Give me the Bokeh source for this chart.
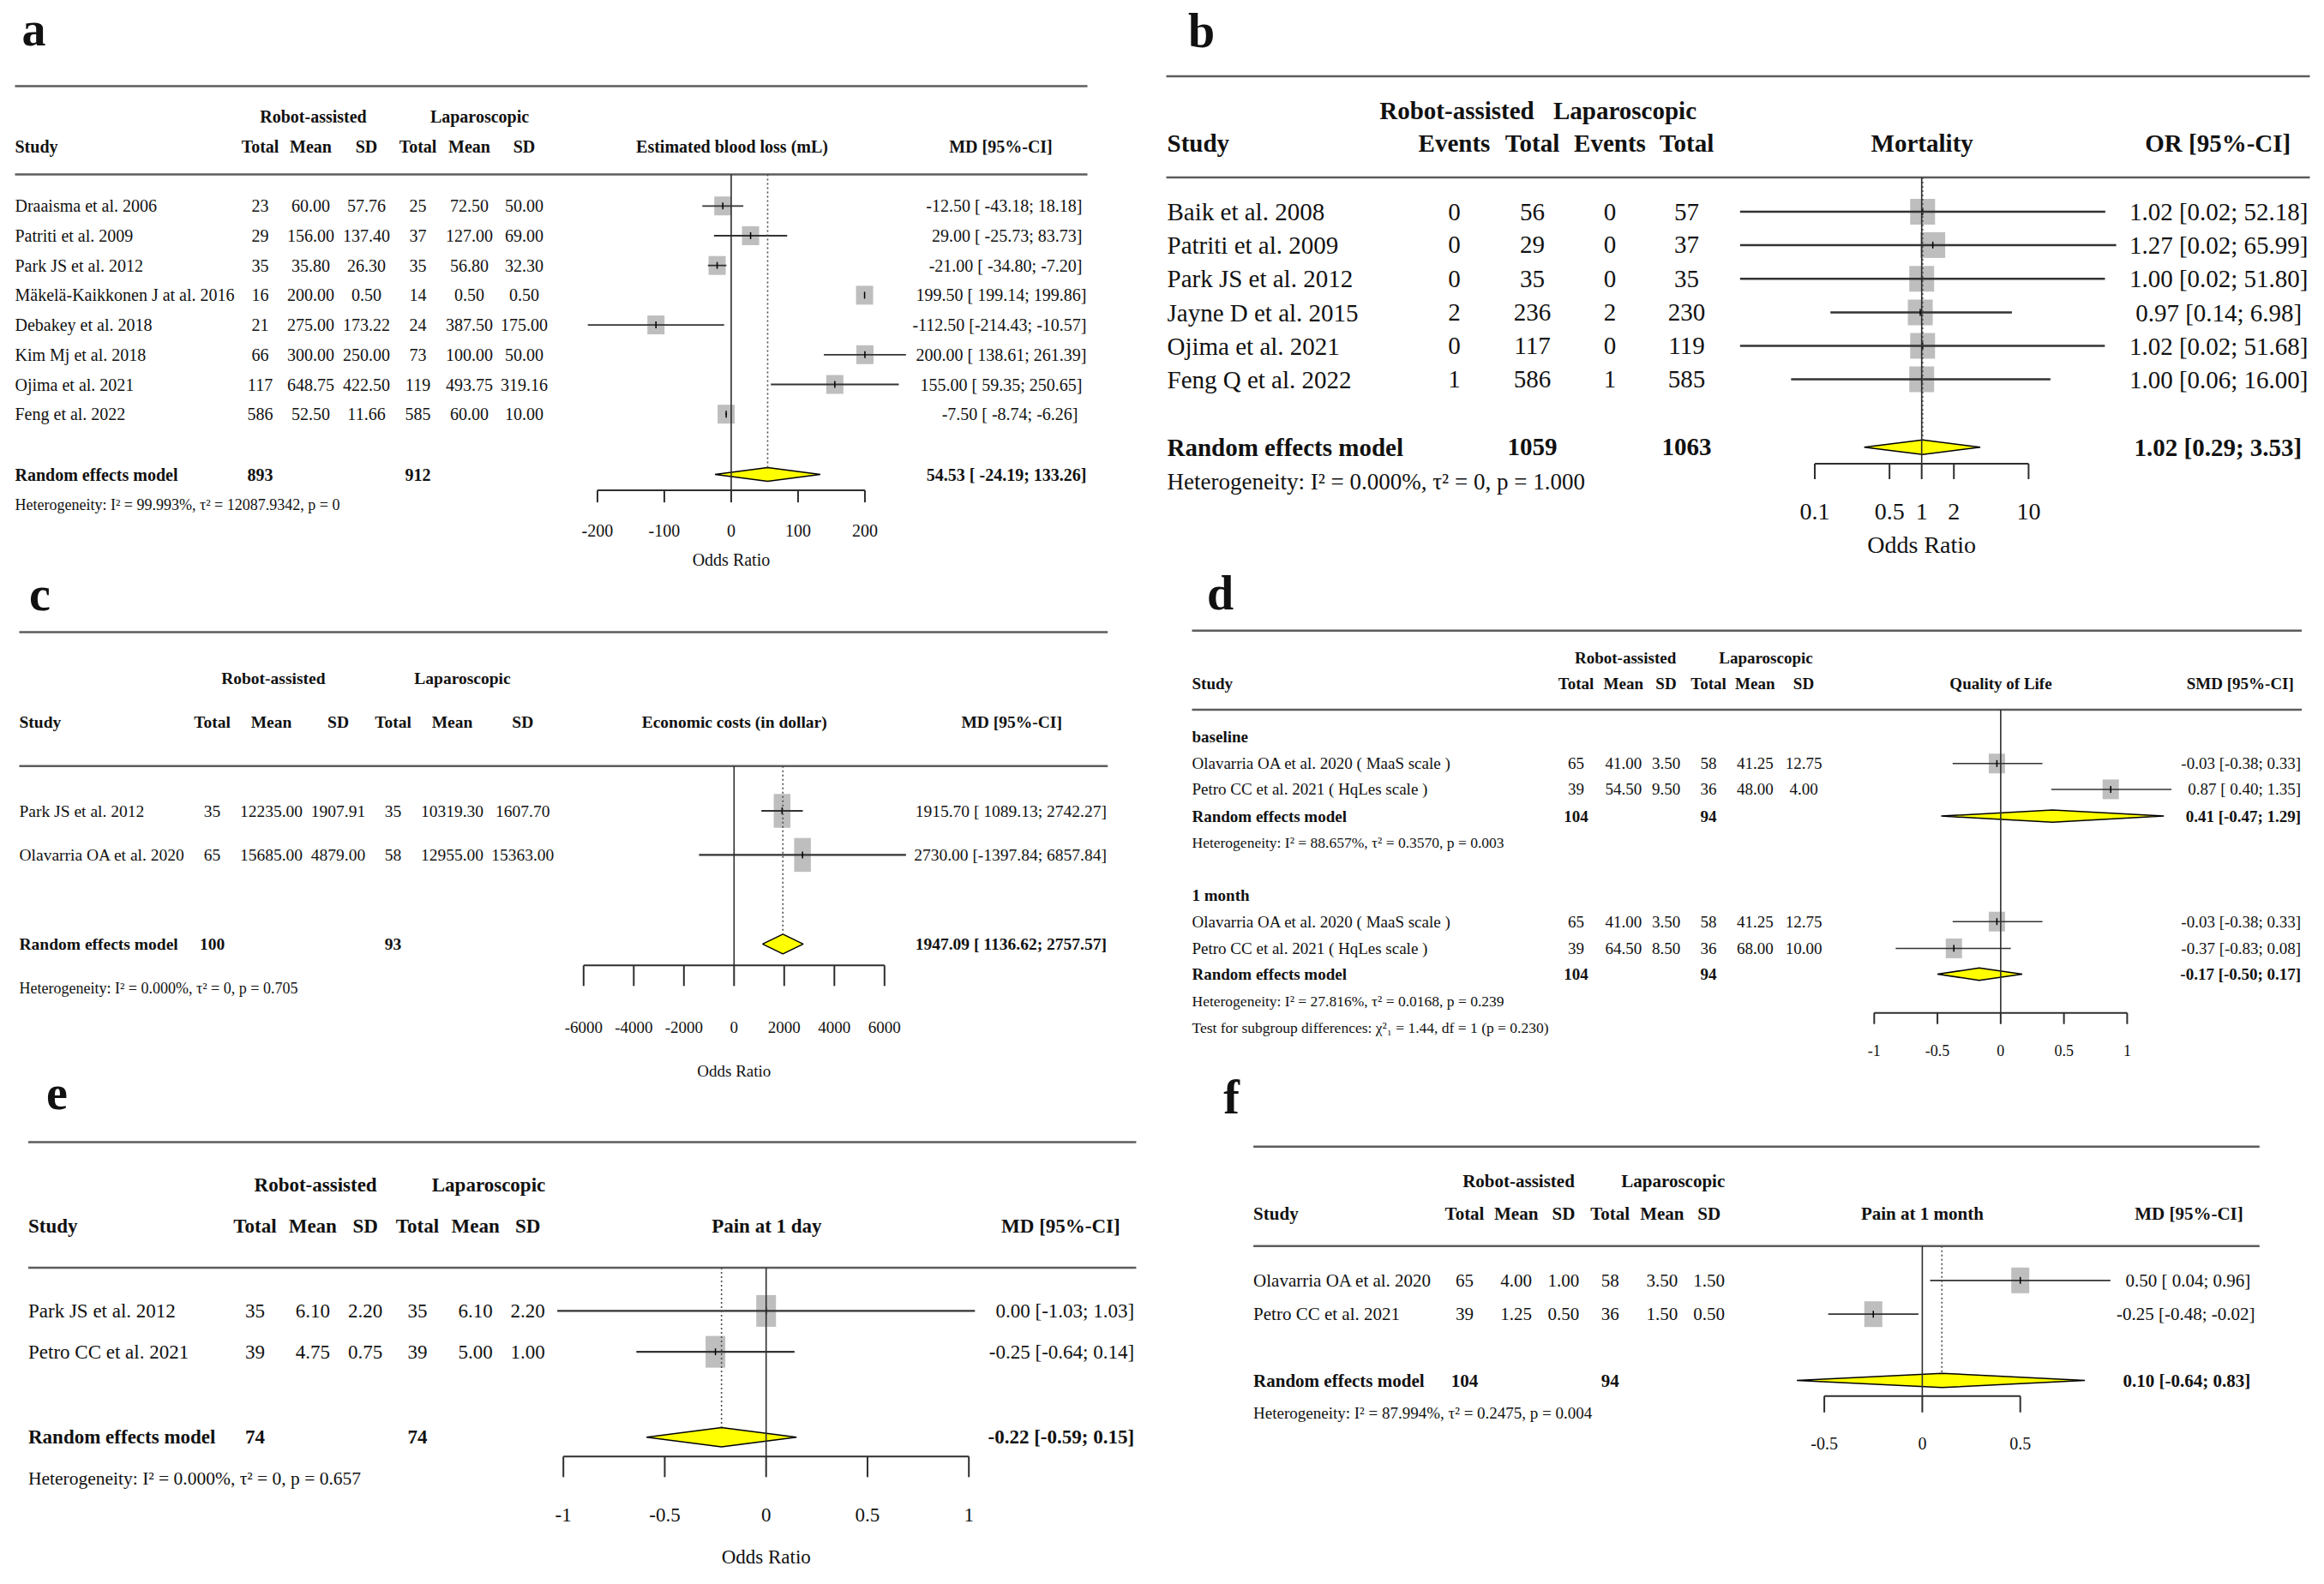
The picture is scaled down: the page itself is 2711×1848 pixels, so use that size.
import math
from bokeh.plotting import figure
from bokeh.models import Range1d, ColumnDataSource, LogScale, LinearScale
from bokeh.embed import file_html
from bokeh.resources import INLINE
from bokeh.core.properties import value

FONT = "Liberation Serif"

# ================= DATA =================
# (a) Estimated blood loss (mL)
a_studies = ["Draaisma et al. 2006", "Patriti et al. 2009", "Park JS et al. 2012",
             "Mäkelä-Kaikkonen J at al. 2016", "Debakey et al. 2018", "Kim Mj et al. 2018",
             "Ojima et al. 2021", "Feng et al. 2022"]
a_rob_total = [23, 29, 35, 16, 21, 66, 117, 586]
a_rob_mean = [60.00, 156.00, 35.80, 200.00, 275.00, 300.00, 648.75, 52.50]
a_rob_sd = [57.76, 137.40, 26.30, 0.50, 173.22, 250.00, 422.50, 11.66]
a_lap_total = [25, 37, 35, 14, 24, 73, 119, 585]
a_lap_mean = [72.50, 127.00, 56.80, 0.50, 387.50, 100.00, 493.75, 60.00]
a_lap_sd = [50.00, 69.00, 32.30, 0.50, 175.00, 50.00, 319.16, 10.00]
a_md = [-12.50, 29.00, -21.00, 199.50, -112.50, 200.00, 155.00, -7.50]
a_lo = [-43.18, -25.73, -34.80, 199.14, -214.43, 138.61, 59.35, -8.74]
a_hi = [18.18, 83.73, -7.20, 199.86, -10.57, 261.39, 250.65, -6.26]
a_re = [54.53, -24.19, 133.26]
a_re_totals = [893, 912]
a_het = "Heterogeneity: I² = 99.993%, τ² = 12087.9342, p = 0"
a_ticks = [-200, -100, 0, 100, 200]
a_tick_labels = ["-200", "-100", "0", "100", "200"]

# (b) Mortality
b_studies = ["Baik et al. 2008", "Patriti et al. 2009", "Park JS et al. 2012",
             "Jayne D et al. 2015", "Ojima et al. 2021", "Feng Q et al. 2022"]
b_rob_events = [0, 0, 0, 2, 0, 1]
b_rob_total = [56, 29, 35, 236, 117, 586]
b_lap_events = [0, 0, 0, 2, 0, 1]
b_lap_total = [57, 37, 35, 230, 119, 585]
b_or = [1.02, 1.27, 1.00, 0.97, 1.02, 1.00]
b_lo = [0.02, 0.02, 0.02, 0.14, 0.02, 0.06]
b_hi = [52.18, 65.99, 51.80, 6.98, 51.68, 16.00]
b_re = [1.02, 0.29, 3.53]
b_re_totals = [1059, 1063]
b_het = "Heterogeneity: I² = 0.000%, τ² = 0, p = 1.000"
b_ticks = [0.1, 0.5, 1, 2, 10]
b_tick_labels = ["0.1", "0.5", "1", "2", "10"]

# (c) Economic costs
c_studies = ["Park JS et al. 2012", "Olavarria OA et al. 2020"]
c_rob_total = [35, 65]
c_rob_mean = [12235.00, 15685.00]
c_rob_sd = [1907.91, 4879.00]
c_lap_total = [35, 58]
c_lap_mean = [10319.30, 12955.00]
c_lap_sd = [1607.70, 15363.00]
c_md = [1915.70, 2730.00]
c_lo = [1089.13, -1397.84]
c_hi = [2742.27, 6857.84]
c_re = [1947.09, 1136.62, 2757.57]
c_re_totals = [100, 93]
c_het = "Heterogeneity: I² = 0.000%, τ² = 0, p = 0.705"
c_ticks = [-6000, -4000, -2000, 0, 2000, 4000, 6000]
c_tick_labels = ["-6000", "-4000", "-2000", "0", "2000", "4000", "6000"]

# (d) Quality of life
d_studies = ["Olavarria OA et al. 2020 ( MaaS scale )", "Petro CC et al. 2021 ( HqLes scale )"]
d_subgroups = ["baseline", "1 month"]
d_base_rob_total = [65, 39]
d_base_rob_mean = [41.00, 54.50]
d_base_rob_sd = [3.50, 9.50]
d_base_lap_total = [58, 36]
d_base_lap_mean = [41.25, 48.00]
d_base_lap_sd = [12.75, 4.00]
d_base_smd = [-0.03, 0.87]
d_base_lo = [-0.38, 0.40]
d_base_hi = [0.33, 1.35]
d_base_re = [0.41, -0.47, 1.29]
d_base_het = "Heterogeneity: I² = 88.657%, τ² = 0.3570, p = 0.003"
d_m1_rob_total = [65, 39]
d_m1_rob_mean = [41.00, 64.50]
d_m1_rob_sd = [3.50, 8.50]
d_m1_lap_total = [58, 36]
d_m1_lap_mean = [41.25, 68.00]
d_m1_lap_sd = [12.75, 10.00]
d_m1_smd = [-0.03, -0.37]
d_m1_lo = [-0.38, -0.83]
d_m1_hi = [0.33, 0.08]
d_m1_re = [-0.17, -0.50, 0.17]
d_m1_het = "Heterogeneity: I² = 27.816%, τ² = 0.0168, p = 0.239"
d_re_totals = [104, 94]
d_test = "Test for subgroup differences: χ²₁ = 1.44, df = 1 (p = 0.230)"
d_ticks = [-1, -0.5, 0, 0.5, 1]
d_tick_labels = ["-1", "-0.5", "0", "0.5", "1"]

# (e) Pain at 1 day
e_studies = ["Park JS et al. 2012", "Petro CC et al. 2021"]
e_rob_total = [35, 39]
e_rob_mean = [6.10, 4.75]
e_rob_sd = [2.20, 0.75]
e_lap_total = [35, 39]
e_lap_mean = [6.10, 5.00]
e_lap_sd = [2.20, 1.00]
e_md = [0.00, -0.25]
e_lo = [-1.03, -0.64]
e_hi = [1.03, 0.14]
e_re = [-0.22, -0.59, 0.15]
e_re_totals = [74, 74]
e_het = "Heterogeneity: I² = 0.000%, τ² = 0, p = 0.657"
e_ticks = [-1, -0.5, 0, 0.5, 1]
e_tick_labels = ["-1", "-0.5", "0", "0.5", "1"]

# (f) Pain at 1 month
f_studies = ["Olavarria OA et al. 2020", "Petro CC et al. 2021"]
f_rob_total = [65, 39]
f_rob_mean = [4.00, 1.25]
f_rob_sd = [1.00, 0.50]
f_lap_total = [58, 36]
f_lap_mean = [3.50, 1.50]
f_lap_sd = [1.50, 0.50]
f_md = [0.50, -0.25]
f_lo = [0.04, -0.48]
f_hi = [0.96, -0.02]
f_re = [0.10, -0.64, 0.83]
f_re_totals = [104, 94]
f_het = "Heterogeneity: I² = 87.994%, τ² = 0.2475, p = 0.004"
f_ticks = [-0.5, 0, 0.5]
f_tick_labels = ["-0.5", "0", "0.5"]

# ================= STYLE / LAYOUT (pixel positions of the page) =================
W, H = 2711, 1848
RULE = "#5c5c5c"
AXC = "#2e2e2e"
CIC = "#333333"
SQC = "#bebebe"
YEL = "#ffff00"
DOTC = "#4d4d4d"
TXT = "#111111"

LA = dict(log=False, px0=852.45, k=0.78,
          label=("a", 39, 33), rule_x0=17, rule_x1=1268, rule1=100, rule2=203,
          grp_y=135, grp_x=[365, 559], hdr_y=170, study_x=17,
          cols=[303, 362, 427, 487, 547, 611], title_x=853.5, ci_hdr_x=1167, ci_right=1267,
          rows=[239.8, 274.5, 309.2, 343.9, 378.6, 413.3, 448.0, 482.7], re_y=553, het_y=588.5,
          axis_y=571.6, tick_lab_y=618, xlab_y=652.7, fs=20, fs_het=18, fs_tick=20, tick_len=14,
          xlabel="Odds Ratio", sq=(20, 22), dia_h=8, ci_w=1.8)

LB = dict(log=True, px0=2241.2, k=124.7,
          label=("b", 1401, 35), rule_x0=1360, rule_x1=2694, rule1=88.5, rule2=206.4,
          grp_y=128, grp_x=[1699, 1895], hdr_y=166.6, study_x=1361,
          cols=[1696, 1787, 1877.5, 1967], title_x=2241.7, ci_hdr_x=2586.7, ci_right=2692,
          rows=[246.6, 285.4, 324.8, 364.0, 403.0, 442.0], re_y=521.3, het_y=561,
          axis_y=540.5, tick_lab_y=596, xlab_y=634.5, fs=29, fs_het=27, fs_tick=28, tick_len=18,
          xlabel="Odds Ratio", sq=(29, 30), dia_h=8.5, ci_w=2.5)

LC = dict(log=False, px0=855.8, k=0.02925,
          label=("c", 46, 692.5), rule_x0=22, rule_x1=1291.7, rule1=737, rule2=893.3,
          grp_y=790.5, grp_x=[318.3, 539], hdr_y=842, study_x=22,
          cols=[247, 316, 394, 458, 527, 609.3], title_x=856.2, ci_hdr_x=1179.7, ci_right=1290.4,
          rows=[945.5, 996.9], re_y=1100.9, het_y=1152.3,
          axis_y=1125.8, tick_lab_y=1197.8, xlab_y=1249, fs=19.5, fs_het=18, fs_tick=19, tick_len=24,
          xlabel="Odds Ratio", sq=(19.5, 39.5), dia_h=11.5, ci_w=2.2)

LD = dict(log=False, px0=2333.35, k=147.55,
          label=("d", 1423, 691.6), rule_x0=1390, rule_x1=2684.5, rule1=735.3, rule2=827.5,
          grp_y=767.2, grp_x=[1895.6, 2059.5], hdr_y=797.3, study_x=1390,
          cols=[1838, 1893.3, 1943, 1992.5, 2046.8, 2103.5], title_x=2333.5, ci_hdr_x=2612.8,
          ci_right=2683.7, sub_y=[859.4, 1043.8], rows_b=[890.3, 920.4], re_b=951.6, het_b=982.9,
          rows_m=[1074.7, 1105.9], re_m=1136, het_m=1167.3, test_y=1198,
          axis_y=1181.2, tick_lab_y=1224.5, xlab_y=None, fs=19, fs_het=17.5, fs_tick=18, tick_len=13,
          xlabel=None, sq=(19, 23), dia_h=7.2, ci_w=1.5)

LE = dict(log=False, px0=893.2, k=236.5,
          label=("e", 66, 1274), rule_x0=32.5, rule_x1=1324.9, rule1=1331.9, rule2=1478.5,
          grp_y=1381.5, grp_x=[367.6, 569.5], hdr_y=1430, study_x=32.5,
          cols=[297, 364.3, 425.7, 486.5, 554.2, 615.2], title_x=893.9, ci_hdr_x=1236.9,
          ci_right=1322.6, rows=[1528.9, 1576.6], re_y=1676.3, het_y=1724,
          axis_y=1698.8, tick_lab_y=1767.4, xlab_y=1815.9, fs=23, fs_het=21.5, fs_tick=23, tick_len=24,
          xlabel="Odds Ratio", sq=(23, 37), dia_h=11.2, ci_w=2.2)

LF = dict(log=False, px0=2241.9, k=228.6,
          label=("f", 1436, 1279), rule_x0=1461.6, rule_x1=2635.3, rule1=1337.3, rule2=1453.3,
          grp_y=1377.7, grp_x=[1771, 1951.3], hdr_y=1415.7, study_x=1461.6,
          cols=[1708, 1768.2, 1823.4, 1877.7, 1938.3, 1993.2], title_x=2241.9, ci_hdr_x=2553,
          ci_right=2630, rows=[1493.3, 1532.7], re_y=1610, het_y=1648.3,
          axis_y=1628.3, tick_lab_y=1683.3, xlab_y=None, fs=21, fs_het=19, fs_tick=20, tick_len=19,
          xlabel=None, sq=(21, 30), dia_h=8.3, ci_w=1.8)

MD_HEADS = ["Total", "Mean", "SD", "Total", "Mean", "SD"]
GRP_HEADS = ["Robot-assisted", "Laparoscopic"]

# ================= FIGURE =================
p = figure(width=W, height=H, x_range=Range1d(0, W), y_range=Range1d(H, 0),
           toolbar_location=None, output_backend="svg", min_border=0,
           outline_line_color=None, x_axis_location=None, y_axis_location=None,
           title_location=None, background_fill_color="white", border_fill_color="white")
p.grid.visible = False

# one effect-size scale per panel, mapped onto the page
ranges, scales = {}, {}
for nm, L in (("fa", LA), ("fb", LB), ("fc", LC), ("fd", LD), ("fe", LE), ("ff", LF)):
    if L["log"]:
        ranges[nm] = Range1d(10 ** ((0 - L["px0"]) / L["k"]), 10 ** ((W - L["px0"]) / L["k"]))
        scales[nm] = LogScale()
    else:
        ranges[nm] = Range1d((0 - L["px0"]) / L["k"], (W - L["px0"]) / L["k"])
        scales[nm] = LinearScale()
p.extra_x_ranges = ranges
p.extra_x_scales = scales


# ================= HELPERS =================
def f2(v):
    return f"{v:.2f}"


def ci_texts(est, lo, hi):
    es = [f2(v) for v in est]
    ls = [f2(v) for v in lo]
    hs = [f2(v) for v in hi]
    wl = max(len(s) for s in ls)
    wh = max(len(s) for s in hs)
    return [f"{e} [{l:>{wl}}; {h:>{wh}}]" for e, l, h in zip(es, ls, hs)]


def md_cols(rt, rm, rs, lt, lm, ls):
    return [[str(v) for v in rt], [f2(v) for v in rm], [f2(v) for v in rs],
            [str(v) for v in lt], [f2(v) for v in lm], [f2(v) for v in ls]]


def txt(xs, ys, texts, size, align="left", bold=False, rng=None, color=TXT):
    src = ColumnDataSource(data=dict(x=list(xs), y=list(ys), t=list(texts)))
    kw = dict(x_range_name=rng) if rng else {}
    p.text(x="x", y="y", text="t", source=src, text_font=value(FONT),
           text_font_size=f"{size}px", text_font_style="bold" if bold else "normal",
           text_align=align, text_baseline="middle", text_color=color, **kw)


def panel_frame(L, col_heads, title, ci_head):
    lab, lx, ly = L["label"]
    txt([lx], [ly], [lab], 56, "center", True)
    p.segment(x0=[L["rule_x0"]] * 2, y0=[L["rule1"], L["rule2"]], x1=[L["rule_x1"]] * 2,
              y1=[L["rule1"], L["rule2"]], line_color=RULE, line_width=2.5)
    fs = L["fs"]
    txt(L["grp_x"], [L["grp_y"]] * 2, GRP_HEADS, fs, "center", True)
    txt([L["study_x"]], [L["hdr_y"]], ["Study"], fs, "left", True)
    txt(L["cols"], [L["hdr_y"]] * len(L["cols"]), col_heads, fs, "center", True)
    txt([L["title_x"], L["ci_hdr_x"]], [L["hdr_y"]] * 2, [title, ci_head], fs, "center", True)


def draw_axis(nm, L, ticks, labels):
    t0, t1 = ticks[0], ticks[-1]
    ay = L["axis_y"]
    n = len(ticks)
    p.segment(x0=[t0], y0=[ay], x1=[t1], y1=[ay], x_range_name=nm, line_color=AXC, line_width=2)
    p.segment(x0=ticks, y0=[ay] * n, x1=ticks, y1=[ay + L["tick_len"]] * n, x_range_name=nm,
              line_color=AXC, line_width=2)
    txt(ticks, [L["tick_lab_y"]] * n, labels, L["fs_tick"], "center", rng=nm)
    if L["xlabel"]:
        mid = math.sqrt(t0 * t1) if L["log"] else (t0 + t1) / 2
        txt([mid], [L["xlab_y"]], [L["xlabel"]], L["fs_tick"], "center", rng=nm)


def add_rows(nm, L, ys, names, cols, est, lo, hi, cis):
    fs = L["fs"]
    n = len(ys)
    txt([L["study_x"]] * n, ys, names, fs)
    for cx, vals in zip(L["cols"], cols):
        txt([cx] * n, ys, vals, fs, "center")
    p.rect(x=est, y=ys, width=L["sq"][0], height=L["sq"][1], width_units="screen",
           height_units="screen", fill_color=SQC, line_color=None, x_range_name=nm)
    p.segment(x0=lo, y0=ys, x1=hi, y1=ys, line_color=CIC, line_width=L["ci_w"], x_range_name=nm)
    p.scatter(x=est, y=ys, marker="dash", angle=math.pi / 2, size=8,
              line_color="black", line_width=1.5, x_range_name=nm)
    txt([L["ci_right"]] * n, ys, cis, fs, "right")


def add_re(nm, L, y, tot_idx, totals, re, ci, het_y, het):
    fs = L["fs"]
    txt([L["study_x"]], [y], ["Random effects model"], fs, bold=True)
    txt([L["cols"][i] for i in tot_idx], [y] * len(totals), [str(t) for t in totals],
        fs, "center", True)
    dh = L["dia_h"]
    est, lo, hi = re
    p.patch(x=[lo, est, hi, est], y=[y, y - dh, y, y + dh], fill_color=YEL,
            line_color="black", line_width=1.5, x_range_name=nm)
    txt([L["ci_right"]], [y], [ci], fs, "right", True)
    txt([L["study_x"]], [het_y], [het], L["fs_het"])


def add_refs(nm, L, null, dotted_est=None, dotted_end=None):
    p.segment(x0=[null], y0=[L["rule2"]], x1=[null], y1=[L["axis_y"]],
              line_color=AXC, line_width=1.6, x_range_name=nm)
    if dotted_est is not None:
        p.segment(x0=[dotted_est], y0=[L["rule2"]], x1=[dotted_est], y1=[dotted_end],
                  line_color=DOTC, line_width=1.6, line_dash="2 3", x_range_name=nm)


def simple_panel(nm, L, col_heads, title, ci_head, names, cols, est, lo, hi, re, re_totals,
                 tot_idx, het, ticks, tick_labels, null):
    panel_frame(L, col_heads, title, ci_head)
    cis = ci_texts(est + [re[0]], lo + [re[1]], hi + [re[2]])
    add_rows(nm, L, L["rows"], names, cols, est, lo, hi, cis[:-1])
    add_re(nm, L, L["re_y"], tot_idx, re_totals, re, cis[-1], L["het_y"], het)
    draw_axis(nm, L, ticks, tick_labels)
    add_refs(nm, L, null, re[0], L["re_y"] - L["dia_h"])


# ================= PANELS =================
simple_panel("fa", LA, MD_HEADS, "Estimated blood loss (mL)", "MD [95%-CI]", a_studies,
             md_cols(a_rob_total, a_rob_mean, a_rob_sd, a_lap_total, a_lap_mean, a_lap_sd),
             a_md, a_lo, a_hi, a_re, a_re_totals, [0, 3], a_het, a_ticks, a_tick_labels, 0)

simple_panel("fb", LB, ["Events", "Total", "Events", "Total"], "Mortality", "OR [95%-CI]",
             b_studies,
             [[str(v) for v in b_rob_events], [str(v) for v in b_rob_total],
              [str(v) for v in b_lap_events], [str(v) for v in b_lap_total]],
             b_or, b_lo, b_hi, b_re, b_re_totals, [1, 3], b_het, b_ticks, b_tick_labels, 1)

simple_panel("fc", LC, MD_HEADS, "Economic costs (in dollar)", "MD [95%-CI]", c_studies,
             md_cols(c_rob_total, c_rob_mean, c_rob_sd, c_lap_total, c_lap_mean, c_lap_sd),
             c_md, c_lo, c_hi, c_re, c_re_totals, [0, 3], c_het, c_ticks, c_tick_labels, 0)

simple_panel("fe", LE, MD_HEADS, "Pain at 1 day", "MD [95%-CI]", e_studies,
             md_cols(e_rob_total, e_rob_mean, e_rob_sd, e_lap_total, e_lap_mean, e_lap_sd),
             e_md, e_lo, e_hi, e_re, e_re_totals, [0, 3], e_het, e_ticks, e_tick_labels, 0)

simple_panel("ff", LF, MD_HEADS, "Pain at 1 month", "MD [95%-CI]", f_studies,
             md_cols(f_rob_total, f_rob_mean, f_rob_sd, f_lap_total, f_lap_mean, f_lap_sd),
             f_md, f_lo, f_hi, f_re, f_re_totals, [0, 3], f_het, f_ticks, f_tick_labels, 0)

# panel d: two subgroups
panel_frame(LD, MD_HEADS, "Quality of Life", "SMD [95%-CI]")
d_cis = ci_texts(d_base_smd + d_m1_smd + [d_base_re[0], d_m1_re[0]],
                 d_base_lo + d_m1_lo + [d_base_re[1], d_m1_re[1]],
                 d_base_hi + d_m1_hi + [d_base_re[2], d_m1_re[2]])
txt([LD["study_x"]] * 2, LD["sub_y"], d_subgroups, LD["fs"], bold=True)
add_rows("fd", LD, LD["rows_b"], d_studies,
         md_cols(d_base_rob_total, d_base_rob_mean, d_base_rob_sd,
                 d_base_lap_total, d_base_lap_mean, d_base_lap_sd),
         d_base_smd, d_base_lo, d_base_hi, d_cis[0:2])
add_re("fd", LD, LD["re_b"], [0, 3], d_re_totals, d_base_re, d_cis[4], LD["het_b"], d_base_het)
add_rows("fd", LD, LD["rows_m"], d_studies,
         md_cols(d_m1_rob_total, d_m1_rob_mean, d_m1_rob_sd,
                 d_m1_lap_total, d_m1_lap_mean, d_m1_lap_sd),
         d_m1_smd, d_m1_lo, d_m1_hi, d_cis[2:4])
add_re("fd", LD, LD["re_m"], [0, 3], d_re_totals, d_m1_re, d_cis[5], LD["het_m"], d_m1_het)
txt([LD["study_x"]], [LD["test_y"]], [d_test], LD["fs_het"])
draw_axis("fd", LD, d_ticks, d_tick_labels)
add_refs("fd", LD, 0)

open("out.html", "w").write(file_html(p, INLINE, title="Forest plots"))
